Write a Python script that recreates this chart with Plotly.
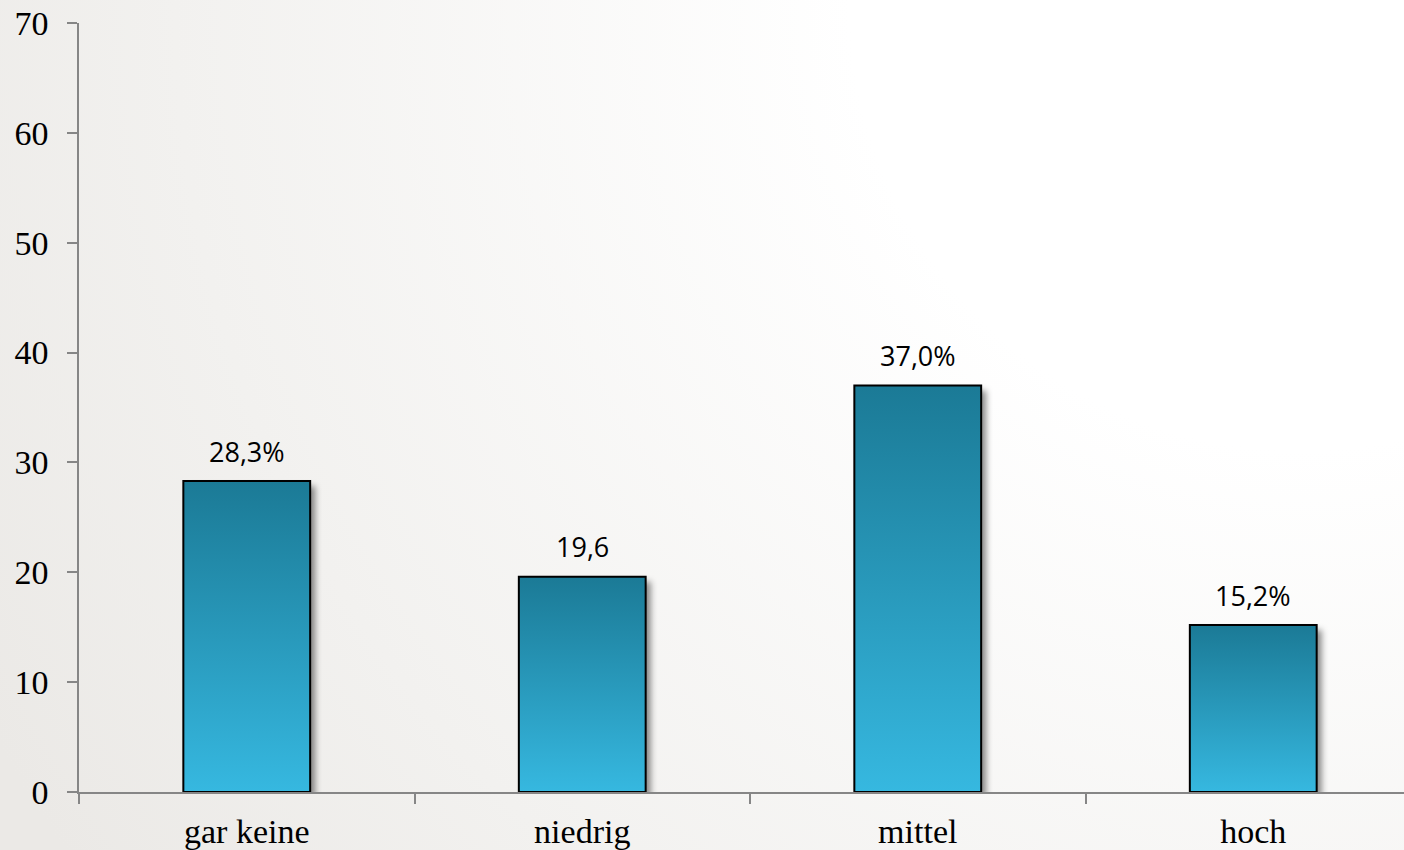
import base64
import plotly.graph_objects as go

categories = ["gar keine", "niedrig", "mittel", "hoch"]
values = [28.3, 19.6, 37.0, 15.2]
value_labels = ["28,3%", "19,6", "37,0%", "15,2%"]
y_ticks = [0, 10, 20, 30, 40, 50, 60, 70]

W, H = 1404, 850
ML, MR, MT, MB = 79, 0, 23, 58
BAR_W = 0.378
Y_MAX = 70
px_per_unit = (H - MT - MB) / Y_MAX
px_per_cat = 335.5


def svg_uri(svg):
    return "data:image/svg+xml;base64," + base64.b64encode(svg.encode()).decode()


bg_svg = (
    f'<svg xmlns="http://www.w3.org/2000/svg" width="{W}" height="{H}" viewBox="0 0 {W} {H}" preserveAspectRatio="none">'
    '<defs><radialGradient id="g" cx="1300" cy="0" r="1500" gradientUnits="userSpaceOnUse">'
    '<stop offset="0" stop-color="#ffffff"/><stop offset="0.3" stop-color="#ffffff"/>'
    '<stop offset="0.75" stop-color="#f2f1ef"/>'
    '<stop offset="1" stop-color="#ebe9e6"/></radialGradient></defs>'
    f'<rect width="{W}" height="{H}" fill="url(#g)"/></svg>'
)

bar_svg = (
    '<svg xmlns="http://www.w3.org/2000/svg" width="100" height="100" viewBox="0 0 100 100" preserveAspectRatio="none">'
    '<defs><linearGradient id="b" x1="0" y1="0" x2="0" y2="1">'
    '<stop offset="0" stop-color="#1b7a96"/><stop offset="1" stop-color="#36b8e0"/>'
    '</linearGradient></defs><rect width="100" height="100" fill="url(#b)"/></svg>'
)

fig = go.Figure()

images = [dict(source=svg_uri(bg_svg), xref="paper", yref="paper",
               x=-ML / (W - ML - MR), y=1 + MT / (H - MT - MB),
               sizex=W / (W - ML - MR), sizey=H / (H - MT - MB),
               sizing="stretch", xanchor="left", yanchor="top", layer="below")]

for i, v in enumerate(values):
    bw = BAR_W * px_per_cat
    bh = v * px_per_unit
    pad = 12
    shadow_svg = (
        f'<svg xmlns="http://www.w3.org/2000/svg" width="{bw + 2 * pad:.1f}" height="{bh + 2 * pad:.1f}" '
        f'viewBox="0 0 {bw + 2 * pad:.1f} {bh + 2 * pad:.1f}" preserveAspectRatio="none">'
        '<defs><filter id="f" x="-20%" y="-20%" width="140%" height="140%"><feGaussianBlur stdDeviation="3"/></filter></defs>'
        f'<rect x="{pad + 5}" y="{pad + 5}" width="{bw}" height="{bh}" fill="rgba(0,0,0,0.45)" filter="url(#f)"/></svg>'
    )
    images.append(dict(source=svg_uri(shadow_svg), xref="x", yref="y",
                       x=i - BAR_W / 2 - pad / px_per_cat, y=v + pad / px_per_unit,
                       sizex=BAR_W + 2 * pad / px_per_cat, sizey=v + 2 * pad / px_per_unit,
                       sizing="stretch", xanchor="left", yanchor="top", layer="below"))
for i, v in enumerate(values):
    images.append(dict(source=svg_uri(bar_svg), xref="x", yref="y",
                       x=i - BAR_W / 2, y=v, sizex=BAR_W, sizey=v,
                       sizing="stretch", xanchor="left", yanchor="top", layer="below"))

fig.add_trace(go.Bar(
    x=categories, y=values, width=BAR_W,
    marker=dict(color="rgba(0,0,0,0)", line=dict(color="#000000", width=2)),
    hoverinfo="skip", showlegend=False,
))

for c, v, t in zip(categories, values, value_labels):
    fig.add_annotation(x=c, y=v, text=t, showarrow=False, yanchor="middle", yshift=30,
                       font=dict(family="Open Sans", size=27, color="#000000"))

axis_col = "#868686"
fig.update_layout(
    width=W, height=H,
    margin=dict(l=ML, r=MR, t=MT, b=MB, pad=0),
    paper_bgcolor="#ffffff", plot_bgcolor="rgba(0,0,0,0)",
    images=images,
    xaxis=dict(type="category", range=[-0.5, 3.5 - (ML + 4 * px_per_cat - W) / px_per_cat],
               showline=True, linecolor=axis_col, linewidth=1.5,
               ticks="outside", tickson="boundaries", ticklen=10, tickcolor=axis_col, tickwidth=1.5,
               showgrid=False, zeroline=False, ticklabelstandoff=8,
               tickfont=dict(family="Liberation Serif", size=34, color="#000000")),
    yaxis=dict(range=[0, Y_MAX], tickvals=y_ticks, showline=True, linecolor=axis_col, linewidth=1.5,
               ticks="outside", ticklen=10, tickcolor=axis_col, tickwidth=1.5,
               showgrid=False, zeroline=False, ticklabelstandoff=12,
               tickfont=dict(family="Liberation Serif", size=34, color="#000000")),
)

fig.write_html("out.html", config={"displayModeBar": False},
               post_script="document.body.style.margin='0';document.body.style.overflow='hidden';")
